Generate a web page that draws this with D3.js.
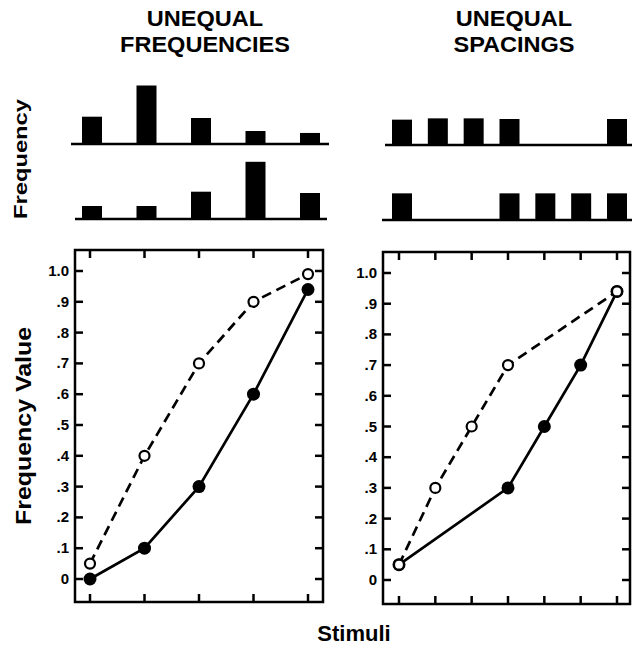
<!DOCTYPE html>
<html><head><meta charset="utf-8">
<script src="https://cdn.jsdelivr.net/npm/d3@7"></script>
<style>body{margin:0;background:#fff}svg{display:block}text{font-family:"Liberation Sans",Arial,Helvetica,sans-serif;font-weight:bold;fill:#000}</style>
</head><body>
<script>
// ---- data ----
const titlesLeft = ["UNEQUAL", "FREQUENCIES"];
const titlesRight = ["UNEQUAL", "SPACINGS"];
const leftStimuli = [0, 1, 2, 3, 4];
const rightStimuli = [0, 1, 2, 3, 4, 5, 6];
const leftFreqTop = [2.1, 4.5, 2.0, 1.0, 0.85];
const leftFreqBottom = [1.0, 1.0, 2.1, 4.4, 2.0];
const rightFreqTopPos = [0, 1, 2, 3, 6];
const rightFreqTop = [1.95, 2.05, 2.05, 2.0, 2.0];
const rightFreqBottomPos = [0, 3, 4, 5, 6];
const rightFreqBottom = [2.05, 2.05, 2.05, 2.05, 2.05];
const leftOpen = [0.05, 0.40, 0.70, 0.90, 0.99];
const leftFilled = [0.00, 0.10, 0.30, 0.60, 0.94];
const rightOpenPos = [0, 1, 2, 3, 6];
const rightOpen = [0.05, 0.30, 0.50, 0.70, 0.94];
const rightFilledPos = [0, 3, 4, 5, 6];
const rightFilled = [0.05, 0.30, 0.50, 0.70, 0.94];
const yTicks = [0, 0.1, 0.2, 0.3, 0.4, 0.5, 0.6, 0.7, 0.8, 0.9, 1.0];
const yTickLabels = ["0", ".1", ".2", ".3", ".4", ".5", ".6", ".7", ".8", ".9", "1.0"];

const W = 632, H = 645;
const svg = d3.select("body").append("svg").attr("width", W).attr("height", H);

// titles
function title(lines, cx) {
  const base = [26, 52];
  lines.forEach((t, i) => {
    svg.append("text").attr("transform", `translate(${cx},${base[i]}) scale(1.07,1)`)
      .attr("text-anchor", "middle").attr("font-size", 22).text(t);
  });
}
title(titlesLeft, 205);
title(titlesRight, 514);

// rotated labels
svg.append("text").attr("transform", "translate(27,159) rotate(-90)")
  .attr("text-anchor", "middle").attr("font-size", 18)
  .attr("textLength", 120).attr("lengthAdjust", "spacingAndGlyphs").text("Frequency");
svg.append("text").attr("transform", "translate(31,426) rotate(-90)")
  .attr("text-anchor", "middle").attr("font-size", 22)
  .attr("textLength", 198).attr("lengthAdjust", "spacingAndGlyphs").text("Frequency Value");
svg.append("text").attr("x", 354).attr("y", 641).attr("text-anchor", "middle")
  .attr("font-size", 22).text("Stimuli");

// ---- histogram panels ----
const unit = 13;
function histo(positions, values, xs, baseY, x0, x1) {
  const hs = d3.scaleLinear().domain([0, 1]).range([0, unit]);
  svg.append("g").selectAll("rect").data(values).join("rect")
    .attr("x", (d, i) => xs(positions[i]) - 10).attr("width", 20)
    .attr("y", d => baseY - hs(d)).attr("height", d => hs(d)).attr("fill", "#000");
  svg.append("line").attr("x1", x0).attr("x2", x1).attr("y1", baseY).attr("y2", baseY)
    .attr("stroke", "#000").attr("stroke-width", 2.5);
}
const xLH = d3.scaleLinear().domain([0, 4]).range([92, 310]);
const xRH = d3.scaleLinear().domain([0, 6]).range([402, 617]);
histo(leftStimuli, leftFreqTop, xLH, 144, 71, 329);
histo(leftStimuli, leftFreqBottom, xLH, 219, 75, 327);
histo(rightFreqTopPos, rightFreqTop, xRH, 145, 385, 632);
histo(rightFreqBottomPos, rightFreqBottom, xRH, 220, 382, 632);

// ---- line plots ----
function plot(cfg) {
  const g = svg.append("g");
  const x = d3.scaleLinear().domain([0, cfg.stimuli.length - 1]).range([cfg.xl, cfg.xr]);
  const y = d3.scaleLinear().domain([0, 1]).range([cfg.y0, cfg.y1]);
  const L = cfg.left, R = cfg.right, T = cfg.top, B = cfg.bottom;
  g.append("rect").attr("x", L).attr("y", T).attr("width", R - L).attr("height", B - T)
    .attr("fill", "none").attr("stroke", "#000").attr("stroke-width", 2.5);
  const tl = 8;
  yTicks.forEach((v, i) => {
    g.append("line").attr("x1", L).attr("x2", L + tl).attr("y1", y(v)).attr("y2", y(v))
      .attr("stroke", "#000").attr("stroke-width", 2.5);
    g.append("line").attr("x1", R).attr("x2", R - tl).attr("y1", y(v)).attr("y2", y(v))
      .attr("stroke", "#000").attr("stroke-width", 2.5);
    g.append("text").attr("x", L - 6).attr("y", y(v) + 5).attr("text-anchor", "end")
      .attr("font-size", 15).text(yTickLabels[i]);
  });
  cfg.stimuli.forEach(s => {
    g.append("line").attr("x1", x(s)).attr("x2", x(s)).attr("y1", T).attr("y2", T + tl)
      .attr("stroke", "#000").attr("stroke-width", 2.5);
    g.append("line").attr("x1", x(s)).attr("x2", x(s)).attr("y1", B).attr("y2", B - tl)
      .attr("stroke", "#000").attr("stroke-width", 2.5);
  });
  const line = d3.line().x(d => x(d[0])).y(d => y(d[1]));
  const openPts = cfg.openPos.map((p, i) => [p, cfg.open[i]]);
  const fillPts = cfg.fillPos.map((p, i) => [p, cfg.filled[i]]);
  g.append("path").attr("d", line(openPts)).attr("fill", "none").attr("stroke", "#000")
    .attr("stroke-width", 2.7).attr("stroke-dasharray", "10,6");
  g.append("path").attr("d", line(fillPts)).attr("fill", "none").attr("stroke", "#000")
    .attr("stroke-width", 2.7);
  g.selectAll("circle.f").data(fillPts).join("circle").attr("class", "f")
    .attr("cx", d => x(d[0])).attr("cy", d => y(d[1])).attr("r", 6.5).attr("fill", "#000");
  g.selectAll("circle.o").data(openPts).join("circle").attr("class", "o")
    .attr("cx", d => x(d[0])).attr("cy", d => y(d[1])).attr("r", 5)
    .attr("fill", "#fff").attr("stroke", "#000").attr("stroke-width", 2.2);
}
plot({stimuli: leftStimuli, xl: 90, xr: 308, y0: 579, y1: 271,
  left: 75, right: 323, top: 250, bottom: 602,
  openPos: leftStimuli, open: leftOpen, fillPos: leftStimuli, filled: leftFilled});
plot({stimuli: rightStimuli, xl: 399, xr: 617, y0: 580, y1: 273,
  left: 383, right: 630, top: 252, bottom: 604,
  openPos: rightOpenPos, open: rightOpen, fillPos: rightFilledPos, filled: rightFilled});
</script>
</body></html>
